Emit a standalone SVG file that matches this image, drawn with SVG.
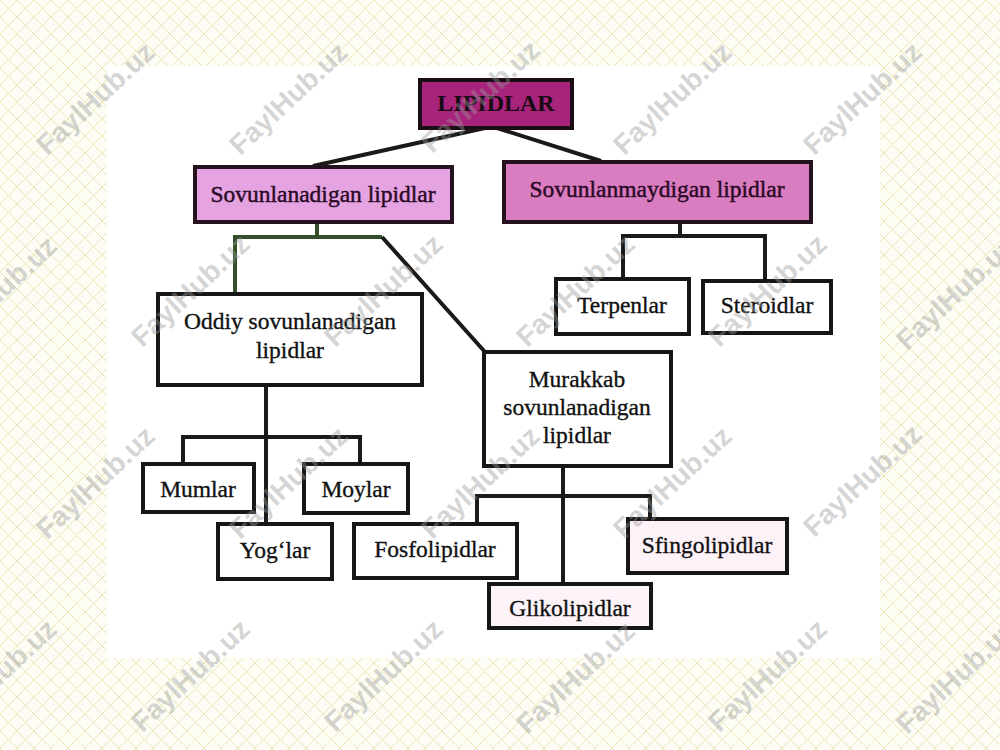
<svg xmlns="http://www.w3.org/2000/svg" width="1000" height="750" viewBox="0 0 1000 750">
  <defs>
    <pattern id="grid" width="17" height="17" patternUnits="userSpaceOnUse">
      <path d="M0,0 L17,17 M17,0 L0,17" stroke="#ebe6b6" stroke-width="1" fill="none"/>
    </pattern>
    <style>
      .box { stroke: #161616; stroke-width: 4; fill: #ffffff; }
      .pinkbox { stroke: #24121f; stroke-width: 4; }
      .t { font-family: "Liberation Serif", "Times New Roman", serif; font-size: 23.5px; fill: #111; stroke: #111; stroke-width: 0.35; text-anchor: middle; }
      .tp { font-family: "Liberation Serif", "Times New Roman", serif; font-size: 23.5px; fill: #2a0a25; stroke: #2a0a25; stroke-width: 0.45; text-anchor: middle; }
      .conn { stroke: #1a1a1a; stroke-width: 4; fill: none; stroke-linejoin: miter; }
      .connG { stroke: #34502a; stroke-width: 4; fill: none; }
      .wm { font-family: "Liberation Sans", Arial, sans-serif; font-weight: bold; font-size: 28px; fill: #9a9a9a; fill-opacity: 0.42; text-anchor: middle; }
    </style>
  </defs>

  <!-- background -->
  <rect x="0" y="0" width="1000" height="750" fill="#fdfdf6"/>
  <rect x="0" y="0" width="1000" height="750" fill="url(#grid)"/>
  <rect x="107" y="66" width="773" height="592" fill="#ffffff"/>

  <!-- connectors -->
  <g id="connectors">
    <path class="conn" d="M485,128 L313,166"/>
    <path class="conn" d="M497,128 L601,161"/>
    <path class="connG" d="M317,222 L317,237 M235,294 L235,237 L382,237"/>
    <path class="conn" d="M382,237 L485,352"/>
    <path class="conn" d="M680,223 L680,236 M623,278 L623,236 L765,236 L765,281"/>
    <path class="conn" d="M266,385 L266,523 M183,463 L183,437 L360,437 L360,463"/>
    <path class="conn" d="M563,467 L563,583 M477,523 L477,496 L650,496 L650,518"/>
  </g>

  <!-- nodes -->
  <g id="lipidlar">
    <rect x="420" y="80" width="152" height="48" fill="#a8247c" stroke="#1a0d16" stroke-width="4"/>
    <text x="496" y="111" font-family="Liberation Serif, Times New Roman, serif" font-size="24" font-weight="bold" fill="#1a0a14" text-anchor="middle">LIPIDLAR</text>
  </g>
  <g id="sovunlanadigan">
    <rect class="pinkbox" x="195" y="167" width="257" height="55" fill="#e6a3e2"/>
    <text class="tp" x="323" y="202">Sovunlanadigan lipidlar</text>
  </g>
  <g id="sovunlanmaydigan">
    <rect class="pinkbox" x="504" y="162" width="307" height="60" fill="#da7cc0"/>
    <text class="tp" x="657" y="197">Sovunlanmaydigan lipidlar</text>
  </g>
  <g id="oddiy">
    <rect class="box" x="158" y="294" width="264" height="91"/>
    <text class="t" x="290" y="329">Oddiy sovunlanadigan</text>
    <text class="t" x="290" y="358">lipidlar</text>
  </g>
  <g id="murakkab">
    <rect class="box" x="484" y="352" width="187" height="114"/>
    <text class="t" x="577" y="387">Murakkab</text>
    <text class="t" x="577" y="415">sovunlanadigan</text>
    <text class="t" x="577" y="443">lipidlar</text>
  </g>
  <g id="terpenlar">
    <rect class="box" x="556" y="279" width="133" height="55"/>
    <text class="t" x="622" y="313">Terpenlar</text>
  </g>
  <g id="steroidlar">
    <rect class="box" x="703" y="281" width="128" height="52"/>
    <text class="t" x="767" y="313">Steroidlar</text>
  </g>
  <g id="mumlar">
    <rect class="box" x="143" y="464" width="111" height="48"/>
    <text class="t" x="198" y="497">Mumlar</text>
  </g>
  <g id="moylar">
    <rect class="box" x="304" y="464" width="104" height="49"/>
    <text class="t" x="356" y="497">Moylar</text>
  </g>
  <g id="yoglar">
    <rect class="box" x="218" y="524" width="114" height="55"/>
    <text class="t" x="275" y="558">Yog‘lar</text>
  </g>
  <g id="fosfolipidlar">
    <rect class="box" x="354" y="524" width="163" height="54"/>
    <text class="t" x="435" y="557">Fosfolipidlar</text>
  </g>
  <g id="sfingolipidlar">
    <rect class="box" x="628" y="519" width="159" height="54" style="fill:#fdf2f8"/>
    <text class="t" x="707" y="553">Sfingolipidlar</text>
  </g>
  <g id="glikolipidlar">
    <rect class="box" x="489" y="584" width="162" height="44" style="fill:#fdf4f9"/>
    <text class="t" x="570" y="616">Glikolipidlar</text>
  </g>

  <!-- watermarks -->
  <g id="watermarks">
    <text class="wm" transform="translate(95,98) rotate(-43)" dy="10">FaylHub.uz</text>
    <text class="wm" transform="translate(288,98) rotate(-43)" dy="10">FaylHub.uz</text>
    <text class="wm" transform="translate(480,96) rotate(-43)" dy="10">FaylHub.uz</text>
    <text class="wm" transform="translate(672,98) rotate(-43)" dy="10">FaylHub.uz</text>
    <text class="wm" transform="translate(862,98) rotate(-43)" dy="10">FaylHub.uz</text>
    <text class="wm" transform="translate(-3,292) rotate(-43)" dy="10">FaylHub.uz</text>
    <text class="wm" transform="translate(190,290) rotate(-43)" dy="10">FaylHub.uz</text>
    <text class="wm" transform="translate(383,290) rotate(-43)" dy="10">FaylHub.uz</text>
    <text class="wm" transform="translate(575,290) rotate(-43)" dy="10">FaylHub.uz</text>
    <text class="wm" transform="translate(767,290) rotate(-43)" dy="10">FaylHub.uz</text>
    <text class="wm" transform="translate(955,293) rotate(-43)" dy="10">FaylHub.uz</text>
    <text class="wm" transform="translate(95,482) rotate(-43)" dy="10">FaylHub.uz</text>
    <text class="wm" transform="translate(288,482) rotate(-43)" dy="10">FaylHub.uz</text>
    <text class="wm" transform="translate(480,482) rotate(-43)" dy="10">FaylHub.uz</text>
    <text class="wm" transform="translate(672,482) rotate(-43)" dy="10">FaylHub.uz</text>
    <text class="wm" transform="translate(862,480) rotate(-43)" dy="10">FaylHub.uz</text>
    <text class="wm" transform="translate(-3,675) rotate(-43)" dy="10">FaylHub.uz</text>
    <text class="wm" transform="translate(190,675) rotate(-43)" dy="10">FaylHub.uz</text>
    <text class="wm" transform="translate(383,675) rotate(-43)" dy="10">FaylHub.uz</text>
    <text class="wm" transform="translate(575,677) rotate(-43)" dy="10">FaylHub.uz</text>
    <text class="wm" transform="translate(767,675) rotate(-43)" dy="10">FaylHub.uz</text>
    <text class="wm" transform="translate(955,677) rotate(-43)" dy="10">FaylHub.uz</text>
  </g>
</svg>
